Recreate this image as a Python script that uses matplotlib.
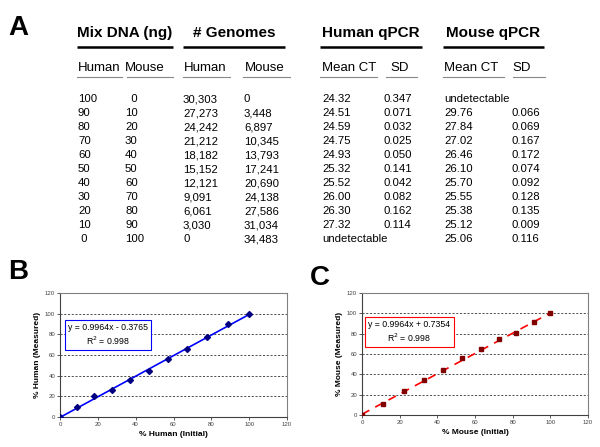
import numpy as np
import matplotlib
matplotlib.use("Agg")
import matplotlib.pyplot as plt

plt.rcParams['font.family'] = ['Liberation Sans', 'DejaVu Sans']

# table data (panel A)
mix_human = [100, 90, 80, 70, 60, 50, 40, 30, 20, 10, 0]
mix_mouse = [0, 10, 20, 30, 40, 50, 60, 70, 80, 90, 100]
gen_human = [30303, 27273, 24242, 21212, 18182, 15152, 12121, 9091, 6061, 3030, 0]
gen_mouse = [0, 3448, 6897, 10345, 13793, 17241, 20690, 24138, 27586, 31034, 34483]
h_ct = [24.32, 24.51, 24.59, 24.75, 24.93, 25.32, 25.52, 26.00, 26.30, 27.32, None]
h_sd = [0.347, 0.071, 0.032, 0.025, 0.050, 0.141, 0.042, 0.082, 0.162, 0.114, None]
m_ct = [None, 29.76, 27.84, 27.02, 26.46, 26.10, 25.70, 25.55, 25.38, 25.12, 25.06]
m_sd = [None, 0.066, 0.069, 0.167, 0.172, 0.074, 0.092, 0.128, 0.135, 0.009, 0.116]

headers = ["Mix DNA (ng)", "# Genomes", "Human qPCR", "Mouse qPCR"]
subheaders = ["Human", "Mouse", "Human", "Mouse", "Mean CT", "SD", "Mean CT", "SD"]

# scatter data (panels B, C)
human_initial = [0, 8.9, 18.0, 27.4, 36.9, 46.8, 56.9, 67.2, 77.9, 88.8, 100]
human_measured = [0, 9.3, 19.9, 26.0, 35.6, 44.9, 56.1, 66.1, 77.3, 90.2, 100]
mouse_initial = [0, 11.2, 22.1, 32.8, 43.1, 53.2, 63.1, 72.6, 82.0, 91.1, 100]
mouse_measured = [0, 10.4, 23.8, 34.9, 44.7, 56.4, 65.2, 74.7, 80.9, 91.0, 100]
human_fit = (0.9964, -0.3765, 0.998)
mouse_fit = (0.9964, 0.7354, 0.998)

W, H = 600, 447
fig = plt.figure(figsize=(W / 100, H / 100), dpi=100)

# overlay in pixel coords for the table
ax_t = fig.add_axes([0, 0, 1, 1])
ax_t.set_xlim(0, W)
ax_t.set_ylim(H, 0)
ax_t.axis('off')

ax_t.text(8, 35, "A", fontsize=20, fontweight='bold', va='baseline')
ax_t.text(8, 279, "B", fontsize=20, fontweight='bold', va='baseline')
ax_t.text(310, 285, "C", fontsize=20, fontweight='bold', va='baseline')

thick = [(77, 173), (183, 285), (320, 422), (443, 544)]
for (x0, x1), h in zip(thick, headers):
    ax_t.text((x0 + x1) / 2, 37, h, fontsize=11, fontweight='bold',
              ha='center', va='baseline')
    ax_t.plot([x0, x1], [47, 47], color='black', lw=1.8, solid_capstyle='butt')

thin = [(77, 122), (127, 173), (183, 230), (243, 290),
        (320, 377), (386, 417), (443, 504), (513, 545)]
sub_x = [78, 125, 184, 245, 322, 390, 444, 512]
for (x0, x1), sx, s in zip(thin, sub_x, subheaders):
    ax_t.text(sx, 71, s, fontsize=9.5, va='baseline')
    ax_t.plot([x0, x1], [77, 77], color='#888888', lw=0.8)

col_x = [78, 125, 183, 244, 322, 384, 444, 512]
fs = 8.2


def fmt_int(v):
    return f"{v:,}"


for i in range(len(mix_human)):
    yb = 102 + 14.03 * i
    cells = [
        (" 0" if mix_human[i] == 0 else str(mix_human[i])),
        ("  0" if mix_mouse[i] == 0 else str(mix_mouse[i])),
        fmt_int(gen_human[i]),
        fmt_int(gen_mouse[i]),
    ]
    for x, c in zip(col_x[:4], cells):
        ax_t.text(x, yb, c, fontsize=fs, va='baseline')
    if h_ct[i] is None:
        ax_t.text(col_x[4], yb, "undetectable", fontsize=fs, va='baseline')
    else:
        ax_t.text(col_x[4], yb, f"{h_ct[i]:.2f}", fontsize=fs, va='baseline')
        ax_t.text(col_x[5], yb, f"{h_sd[i]:.3f}", fontsize=fs, va='baseline')
    if m_ct[i] is None:
        ax_t.text(col_x[6], yb, "undetectable", fontsize=fs, va='baseline')
    else:
        ax_t.text(col_x[6], yb, f"{m_ct[i]:.2f}", fontsize=fs, va='baseline')
        ax_t.text(col_x[7], yb, f"{m_sd[i]:.3f}", fontsize=fs, va='baseline')


def scatter_panel(rect, xs, ys, fit, marker, ms, mcolor, lcolor, ls, box_xy,
                  xlabel, ylabel):
    ax = fig.add_axes(rect)
    slope, icpt, r2 = fit
    xl = np.array([0, 100])
    ax.plot(xl, slope * xl + icpt, color=lcolor, lw=1.2, ls=ls, zorder=2)
    ax.plot(xs, ys, ls='none', marker=marker, color=mcolor, ms=ms, zorder=3)
    ax.set_xlim(0, 120)
    ax.set_ylim(0, 120)
    ax.set_xticks(range(0, 121, 20))
    ax.set_yticks(range(0, 121, 20))
    for yv in range(20, 120, 20):
        ax.axhline(yv, color='#333333', lw=0.6, ls=(0, (2.5, 2)), zorder=1)
    for sp in ax.spines.values():
        sp.set_color('#808080')
        sp.set_linewidth(0.8)
    ax.spines['left'].set_color('#404040')
    ax.spines['bottom'].set_color('#404040')
    ax.tick_params(labelsize=4.3, length=2, width=0.6, colors='#404040',
                   pad=1.5)
    ax.set_xlabel(xlabel, fontsize=6, fontweight='bold', labelpad=3)
    ax.set_ylabel(ylabel, fontsize=6, fontweight='bold', labelpad=3)
    sign = "-" if icpt < 0 else "+"
    eq = f"y = {slope:.4f}x {sign} {abs(icpt):.4f}\nR$^2$ = {r2:.3f}"
    ax.text(box_xy[0], box_xy[1], eq, transform=ax.transAxes, fontsize=6.3,
            ha='center', va='center', linespacing=1.3,
            bbox=dict(boxstyle='square,pad=0.35', fc='white', ec=lcolor, lw=0.8))
    return ax


scatter_panel([60 / W, 1 - 417 / H, 227 / W, 124 / H],
              human_initial, human_measured, human_fit, 'D', 3, '#000080',
              '#0000ff', '-', (0.21, 0.66),
              "% Human (Initial)", "% Human (Measured)")
scatter_panel([362 / W, 1 - 415 / H, 226 / W, 122 / H],
              mouse_initial, mouse_measured, mouse_fit, 's', 3.5, '#800000',
              '#ff0000', (0, (5, 4)), (0.21, 0.68),
              "% Mouse (Initial)", "% Mouse (Measured)")

fig.savefig("out.png", dpi=100)
